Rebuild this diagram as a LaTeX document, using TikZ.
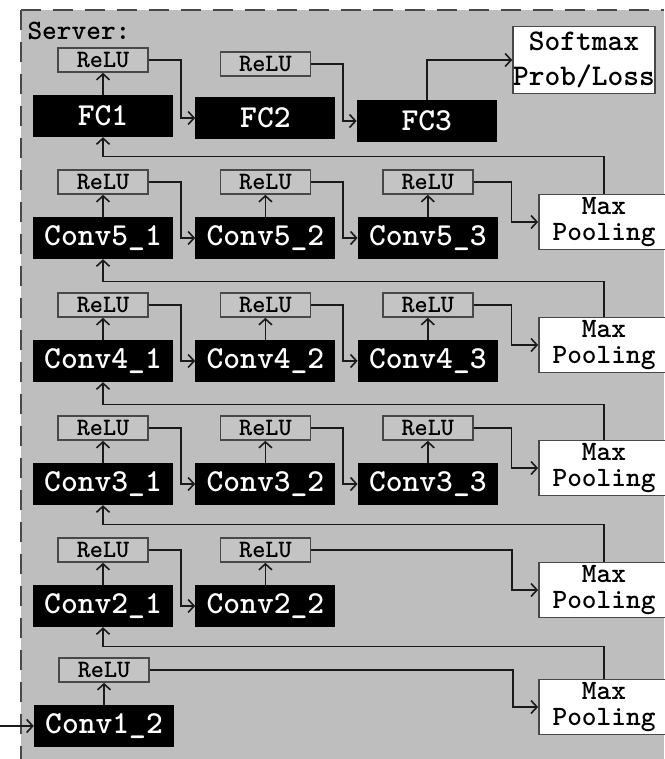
\documentclass[tikz,border=0pt]{standalone}
\usepackage{tikz}
\usetikzlibrary{arrows.meta,positioning}
\definecolor{serverc}{HTML}{BEBEBE}
\definecolor{reluc}{HTML}{C4C4C4}
\definecolor{linec}{HTML}{1A1A1A}
\definecolor{framec}{HTML}{484848}
\tikzset{
  layernode/.style={rectangle, fill=black, text=white, inner sep=0pt,
    minimum width=140pt, minimum height=42pt,
    font=\ttfamily\bfseries\fontsize{32}{32}\selectfont},
  relunode/.style={rectangle, draw=framec, fill=reluc, line width=1.5pt, inner sep=0pt,
    minimum width=90pt, minimum height=24pt,
    font=\ttfamily\bfseries\fontsize{25}{25}\selectfont},
  outnode/.style={rectangle, draw=framec, fill=white, line width=1.8pt, inner sep=0pt,
    minimum width=130pt, minimum height=55pt, align=center,
    font=\ttfamily\bfseries\fontsize{28}{26}\selectfont},
  normaledge/.style={-{Straight Barb[length=6pt,width=13pt]}, draw=linec, line width=1.6pt},
}
\begin{document}
\begin{tikzpicture}[x=1pt, y=-1pt, node distance=22pt]
  \useasboundingbox (0,0) rectangle (664,759);
  % server area
  \fill[serverc] (21,10) rectangle (664,759);
  \draw[framec, line width=2pt, dash pattern=on 20pt off 12pt] (21,10) -- (664,10);
  \draw[framec, line width=2pt, dash pattern=on 20pt off 12pt] (21,10) -- (21,759);
  \node[anchor=west, font=\ttfamily\bfseries\fontsize{28}{28}\selectfont] (server) at (24,31) {Server:};

  % fully connected
  \node[layernode] (fc1) at (103,116) {FC1};
  \node[layernode, right=of fc1, yshift=-2pt] (fc2) {FC2};
  \node[layernode, right=21pt of fc2, yshift=-3pt] (fc3) {FC3};
  \node[relunode, above=of fc1] (rfc1) {ReLU};
  \node[relunode, above=20pt of fc2] (rfc2) {ReLU};
  \node[outnode, minimum height=67pt, font=\ttfamily\bfseries\fontsize{30}{35}\selectfont] (soft) at (584,60) {Softmax\\Prob/Loss};

  % conv5
  \node[layernode] (c51) at (103,238) {Conv5\_1};
  \node[layernode, right=of c51] (c52) {Conv5\_2};
  \node[layernode, right=of c52] (c53) {Conv5\_3};
  \node[relunode, above=of c51] (r51) {ReLU};
  \node[relunode, above=of c52] (r52) {ReLU};
  \node[relunode, above=of c53] (r53) {ReLU};
  \node[outnode] (pool5) at (604,222) {Max\\Pooling};

  % conv4
  \node[layernode] (c41) at (103,361) {Conv4\_1};
  \node[layernode, right=of c41] (c42) {Conv4\_2};
  \node[layernode, right=of c42] (c43) {Conv4\_3};
  \node[relunode, above=of c41] (r41) {ReLU};
  \node[relunode, above=of c42] (r42) {ReLU};
  \node[relunode, above=of c43] (r43) {ReLU};
  \node[outnode] (pool4) at (604,345) {Max\\Pooling};

  % conv3
  \node[layernode] (c31) at (103,484) {Conv3\_1};
  \node[layernode, right=of c31] (c32) {Conv3\_2};
  \node[layernode, right=of c32] (c33) {Conv3\_3};
  \node[relunode, above=of c31] (r31) {ReLU};
  \node[relunode, above=of c32] (r32) {ReLU};
  \node[relunode, above=of c33] (r33) {ReLU};
  \node[outnode] (pool3) at (604,468) {Max\\Pooling};

  % conv2
  \node[layernode] (c21) at (103,606) {Conv2\_1};
  \node[layernode, right=of c21] (c22) {Conv2\_2};
  \node[relunode, above=of c21] (r21) {ReLU};
  \node[relunode, above=of c22] (r22) {ReLU};
  \node[outnode] (pool2) at (604,590) {Max\\Pooling};

  % conv1
  \node[layernode] (c12) at (104,726) {Conv1\_2};
  \node[relunode, above=of c12] (r12) {ReLU};
  \node[outnode] (pool1) at (604,707) {Max\\Pooling};
  \coordinate (input) at (0,726);

  \draw[normaledge] (input) -- (c12.west);
  \draw[normaledge] (c12) -- (r12);
  \draw[normaledge] (r12.east) -- ++(363,0) |- (pool1.west);
  \draw[normaledge] (pool1.north) -- ++(0,-32) -| (c21.south);

  \draw[normaledge] (c21) -- (r21);
  \draw[normaledge] (r21.east) -- ++(32,0) |- (c22.west);
  \draw[normaledge] (c22) -- (r22);
  \draw[normaledge] (r22.east) -- ++(201,0) |- (pool2.west);
  \draw[normaledge] (pool2.north) -- ++(0,-37) -| (c31.south);

  \draw[normaledge] (c31) -- (r31);
  \draw[normaledge] (r31.east) -- ++(32,0) |- (c32.west);
  \draw[normaledge] (c32) -- (r32);
  \draw[normaledge] (r32.east) -- ++(32,0) |- (c33.west);
  \draw[normaledge] (c33) -- (r33);
  \draw[normaledge] (r33.east) -- ++(38,0) |- (pool3.west);
  \draw[normaledge] (pool3.north) -- ++(0,-35) -| (c41.south);

  \draw[normaledge] (c41) -- (r41);
  \draw[normaledge] (r41.east) -- ++(32,0) |- (c42.west);
  \draw[normaledge] (c42) -- (r42);
  \draw[normaledge] (r42.east) -- ++(32,0) |- (c43.west);
  \draw[normaledge] (c43) -- (r43);
  \draw[normaledge] (r43.east) -- ++(38,0) |- (pool4.west);
  \draw[normaledge] (pool4.north) -- ++(0,-35) -| (c51.south);

  \draw[normaledge] (c51) -- (r51);
  \draw[normaledge] (r51.east) -- ++(32,0) |- (c52.west);
  \draw[normaledge] (c52) -- (r52);
  \draw[normaledge] (r52.east) -- ++(32,0) |- (c53.west);
  \draw[normaledge] (c53) -- (r53);
  \draw[normaledge] (r53.east) -- ++(38,0) |- (pool5.west);
  \draw[normaledge] (pool5.north) -- ++(0,-37) -| (fc1.south);

  \draw[normaledge] (fc1) -- (rfc1);
  \draw[normaledge] (rfc1.east) -- ++(32,0) |- (fc2.west);
  \draw[normaledge] (rfc2.east) -- ++(32,0) |- (fc3.west);
  \draw[normaledge] (fc3.north) |- (soft.west);
\end{tikzpicture}
\end{document}
